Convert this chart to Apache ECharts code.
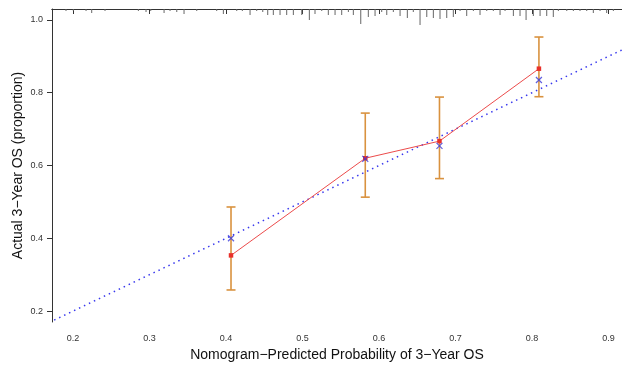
<!DOCTYPE html>
<html>
<head>
<meta charset="utf-8">
<script src="https://cdn.jsdelivr.net/npm/echarts@6/dist/echarts.min.js"></script>
<style>
  html, body { margin: 0; padding: 0; background: #fff; }
  #main { width: 622px; height: 369px; }
</style>
</head>
<body>
<div id="main"></div>
<script>
// calibration groups
var predicted = [0.4065, 0.582, 0.679, 0.809];
var observed = [0.353, 0.620, 0.667, 0.866];
var corrected = [0.400, 0.618, 0.654, 0.835];
var ciLower = [0.258, 0.513, 0.564, 0.789];
var ciUpper = [0.486, 0.744, 0.788, 0.953];

// spike histogram of predictions along the top
var rugX = [0.1908, 0.2004, 0.2170, 0.2244, 0.2418, 0.2854, 0.2954, 0.3016, 0.3190, 0.3268,
  0.3356, 0.3451, 0.3617, 0.3878, 0.3965, 0.4140, 0.4213, 0.4314, 0.4401, 0.4480,
  0.4545, 0.4618, 0.4706, 0.4793, 0.4880, 0.4990, 0.5089, 0.5163, 0.5251, 0.5337,
  0.5425, 0.5512, 0.5599, 0.5664, 0.5761, 0.5860, 0.5948, 0.6035, 0.6101, 0.6187,
  0.6275, 0.6370, 0.6448, 0.6536, 0.6624, 0.6710, 0.6797, 0.6885, 0.6971, 0.7059,
  0.7146, 0.7233, 0.7320, 0.7408, 0.7494, 0.7582, 0.7647, 0.7756, 0.7843, 0.7922,
  0.8017, 0.8105, 0.8192, 0.8278, 0.8344, 0.8454, 0.8540, 0.8627, 0.8715, 0.8801,
  0.8889, 0.8976, 0.9063];
var rugCount = [2, 2, 2, 4, 2, 2, 3, 2, 4, 2,
  3, 5, 2, 2, 5, 2, 2, 6, 2, 3,
  6, 6, 6, 6, 6, 6, 11, 5, 2, 6,
  6, 6, 3, 6, 15, 8, 7, 3, 6, 3,
  7, 9, 3, 16, 8, 9, 10, 9, 8, 2,
  7, 2, 6, 2, 2, 6, 2, 7, 7, 11,
  7, 7, 7, 8, 2, 2, 2, 2, 2, 4,
  2, 4, 2];

var idealLine = [0, 1];
var xTicks = [0.2, 0.3, 0.4, 0.5, 0.6, 0.7, 0.8, 0.9];
var yTicks = [0.2, 0.4, 0.6, 0.8, 1.0];

var axisColor = '#333';
var font = 'Liberation Sans, Arial, sans-serif';

var ciData = predicted.map(function(p, i) { return [p, ciLower[i], ciUpper[i]]; });
var obsData = predicted.map(function(p, i) { return [p, observed[i]]; });
var corData = predicted.map(function(p, i) { return [p, corrected[i]]; });
var rugData = rugX.map(function(x, i) { return [x, rugCount[i]]; });

var option = {
  backgroundColor: '#fff',
  animation: false,
  grid: { left: 52, right: 0, top: 9, bottom: 47 },
  xAxis: [{
    type: 'value',
    min: 0.1725, max: 0.9176,
    name: 'Nomogram\u2212Predicted Probability of 3\u2212Year OS',
    nameLocation: 'middle',
    nameGap: 25,
    nameTextStyle: { fontSize: 14, color: '#111', fontFamily: font },
    axisLine: { show: true, lineStyle: { color: axisColor, width: 1 } },
    axisTick: { show: true, length: 5, customValues: xTicks, lineStyle: { color: axisColor } },
    axisLabel: {
      customValues: xTicks, margin: 12, fontSize: 9, color: '#333', fontFamily: font,
      formatter: function(v) { return v.toFixed(1); }
    },
    splitLine: { show: false }
  }, {
    type: 'value',
    position: 'top',
    min: 0.1725, max: 0.9176,
    axisLine: { show: true, onZero: false, lineStyle: { color: axisColor, width: 1 } },
    axisTick: { show: false },
    axisLabel: { show: false },
    splitLine: { show: false }
  }],
  yAxis: [{
    type: 'value',
    min: 0.17, max: 1.03,
    name: 'Actual 3\u2212Year OS (proportion)',
    nameLocation: 'middle',
    nameGap: 27,
    nameMoveOverlap: false,
    nameTextStyle: { fontSize: 14, color: '#111', fontFamily: font },
    axisLine: { show: true, lineStyle: { color: axisColor, width: 1 } },
    axisTick: { show: true, length: 5, customValues: yTicks, lineStyle: { color: axisColor } },
    axisLabel: {
      customValues: yTicks, margin: 9, fontSize: 9, color: '#333', fontFamily: font,
      formatter: function(v) { return v.toFixed(1); }
    },
    splitLine: { show: false }
  }, {
    type: 'value',
    inverse: true,
    min: 0, max: 313,
    show: false
  }],
  series: [{
    // ideal reference
    type: 'line',
    data: [[idealLine[0], idealLine[0]], [idealLine[1], idealLine[1]]],
    showSymbol: false,
    lineStyle: { color: '#3838EE', width: 1.5, type: [1.5, 4] },
    z: 2
  }, {
    type: 'custom',
    xAxisIndex: 0, yAxisIndex: 1,
    data: rugData,
    renderItem: function(params, api) {
      var a = api.coord([api.value(0), 0]);
      var b = api.coord([api.value(0), api.value(1)]);
      return { type: 'line', shape: { x1: a[0], y1: a[1], x2: b[0], y2: b[1] },
        style: { stroke: '#666', lineWidth: 1 } };
    },
    silent: true
  }, {
    type: 'custom',
    data: ciData,
    renderItem: function(params, api) {
      var lo = api.coord([api.value(0), api.value(1)]);
      var hi = api.coord([api.value(0), api.value(2)]);
      var w = 4.5;
      var st = { stroke: '#D9923F', lineWidth: 1.6 };
      return { type: 'group', children: [
        { type: 'line', shape: { x1: lo[0], y1: lo[1], x2: hi[0], y2: hi[1] }, style: st },
        { type: 'line', shape: { x1: lo[0] - w, y1: lo[1], x2: lo[0] + w, y2: lo[1] }, style: st },
        { type: 'line', shape: { x1: hi[0] - w, y1: hi[1], x2: hi[0] + w, y2: hi[1] }, style: st }
      ] };
    },
    z: 3
  }, {
    type: 'line',
    data: obsData,
    symbol: 'rect',
    symbolSize: 4.5,
    itemStyle: { color: '#E8302A' },
    lineStyle: { color: '#EC4B4B', width: 1 },
    z: 4
  }, {
    type: 'scatter',
    data: corData,
    symbol: 'path://M0,0L10,10M10,0L0,10',
    symbolSize: 6,
    itemStyle: { color: 'rgba(0,0,0,0)', borderColor: '#3a3ad8', borderWidth: 1.2 },
    z: 5
  }]
};

var chart = echarts.init(document.getElementById('main'));
chart.setOption(option);
</script>
</body>
</html>
